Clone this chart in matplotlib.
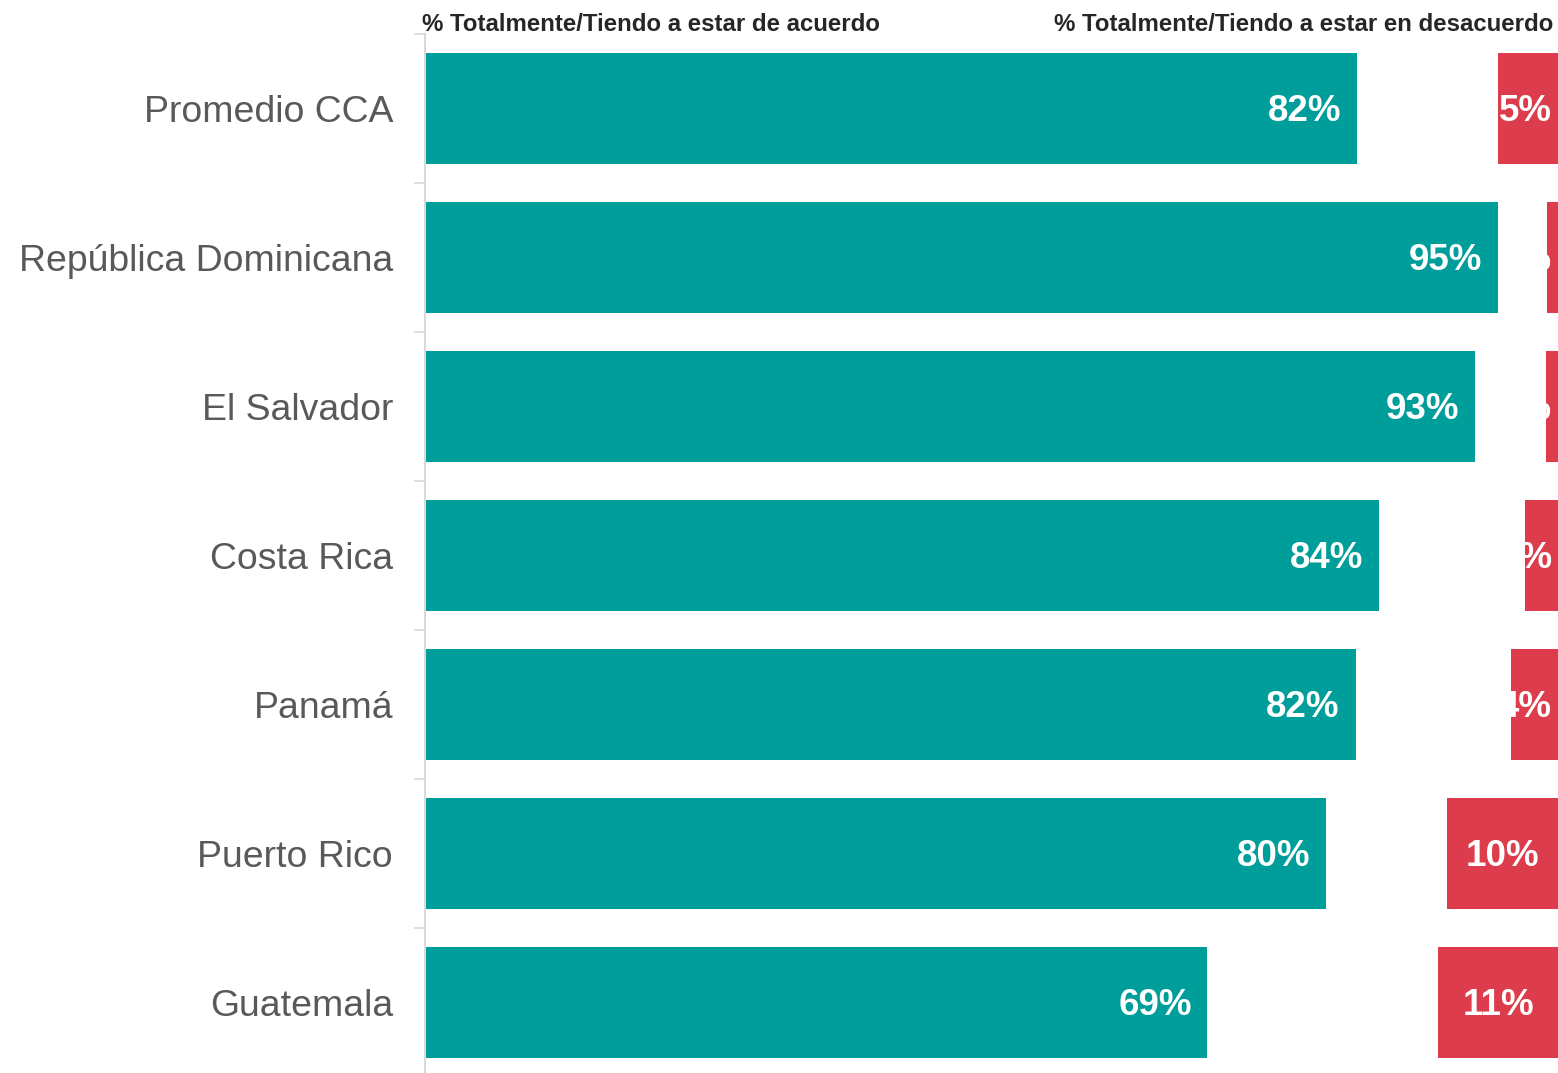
from matplotlib import pyplot as plt

plt.rcParams['font.family'] = ['Liberation Sans', 'DejaVu Sans']

categorias = ["Promedio CCA", "República Dominicana", "El Salvador", "Costa Rica",
              "Panamá", "Puerto Rico", "Guatemala"]
de_acuerdo = [82.4, 94.9, 92.9, 84.4, 82.3, 79.7, 69.2]
en_desacuerdo = [5.3, 1.0, 1.1, 2.9, 4.2, 9.8, 10.6]

verde = '#009E9A'
rojo = '#DC3C4B'
x_max = 100.2

fig = plt.figure(figsize=(15.58, 10.73), dpi=100)
ax = fig.add_axes([425 / 1558, -4 / 1073, 1133 / 1558, 1043 / 1073])

y = list(range(len(categorias)))
ax.barh(y, de_acuerdo, height=0.74, color=verde)
izq = [x_max - d for d in en_desacuerdo]
ax.barh(y, en_desacuerdo, left=izq, height=0.74, color=rojo)

# etiquetas de valores
for i, (a, d) in enumerate(zip(de_acuerdo, en_desacuerdo)):
    ax.text(a - 1.4, i + 0.02, "{:.0f}%".format(a), ha='right', va='center', color='white',
            fontsize=26.5, fontweight='bold', clip_on=True)
    if d >= 6:
        ax.text(x_max - d / 2, i + 0.02, "{:.0f}%".format(d), ha='center', va='center',
                color='white', fontsize=26.5, fontweight='bold', clip_on=True)
    else:
        ax.text(x_max - 0.55, i + 0.02, "{:.0f}%".format(d), ha='right', va='center',
                color='white', fontsize=26.5, fontweight='bold', clip_on=True)

ax.set_xlim(0, x_max)
ax.set_ylim(len(categorias) - 0.5, -0.5)
ax.set_yticks(y)
ax.set_yticklabels(categorias, fontsize=26.9, color='#595959')
ax.set_yticks([i - 0.5 for i in range(len(categorias) + 1)], minor=True)
ax.tick_params(axis='y', which='major', length=0, pad=23)
ax.tick_params(axis='y', which='minor', length=8, width=1.2, color='#D9D9D9')
ax.set_xticks([])

for s in ['top', 'right', 'bottom']:
    ax.spines[s].set_visible(False)
ax.spines['left'].set_color('#D9D9D9')
ax.spines['left'].set_linewidth(1.5)

# encabezados
fig.text(422 / 1558, 1 - 31 / 1073, "% Totalmente/Tiendo a estar de acuerdo",
         ha='left', va='baseline', fontsize=17.3, fontweight='bold', color='#262626')
fig.text(1553 / 1558, 1 - 31 / 1073, "% Totalmente/Tiendo a estar en desacuerdo",
         ha='right', va='baseline', fontsize=17.3, fontweight='bold', color='#262626')

plt.savefig('out.png', dpi=100)
